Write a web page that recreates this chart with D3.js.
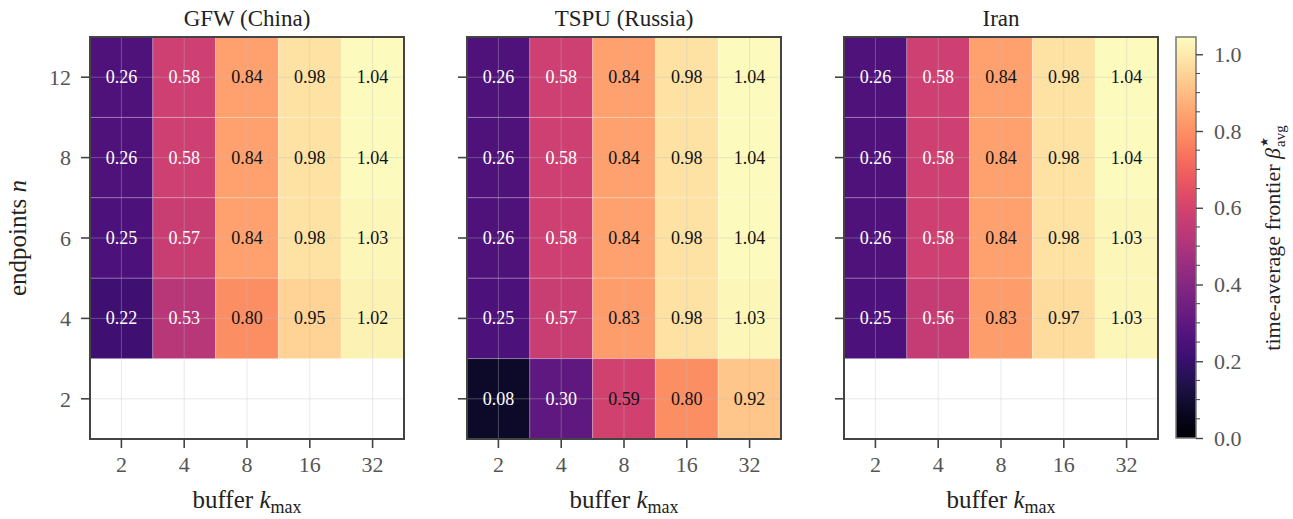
<!DOCTYPE html>
<html>
<head>
<meta charset="utf-8">
<script src="https://cdn.jsdelivr.net/npm/d3@7"></script>
<style>
  body { margin: 0; background: #fff; }
  svg text { font-family: "Liberation Serif", "DejaVu Serif", serif; }
</style>
</head>
<body>
<div id="chart"></div>
<script>
// data
const panels = ["GFW (China)", "TSPU (Russia)", "Iran"];
const buffers = ["2", "4", "8", "16", "32"];
const endpoints = ["12", "8", "6", "4", "2"];

const gfw = [
    [0.26, 0.58, 0.84, 0.98, 1.04],
    [0.26, 0.58, 0.84, 0.98, 1.04],
    [0.25, 0.57, 0.84, 0.98, 1.03],
    [0.22, 0.53, 0.80, 0.95, 1.02],
    null,
];
const tspu = [
    [0.26, 0.58, 0.84, 0.98, 1.04],
    [0.26, 0.58, 0.84, 0.98, 1.04],
    [0.26, 0.58, 0.84, 0.98, 1.04],
    [0.25, 0.57, 0.83, 0.98, 1.03],
    [0.08, 0.30, 0.59, 0.80, 0.92],
];
const iran = [
    [0.26, 0.58, 0.84, 0.98, 1.04],
    [0.26, 0.58, 0.84, 0.98, 1.04],
    [0.26, 0.58, 0.84, 0.98, 1.03],
    [0.25, 0.56, 0.83, 0.97, 1.03],
    null,
];
const panelData = [gfw, tspu, iran];
const cbTicks = [0.0, 0.2, 0.4, 0.6, 0.8, 1.0];
const vmax = 1.045;

const width = 1293, height = 519;
const plotTop = 37, plotBottom = 439;
const panelW = 314;
const panelX = [90, 467, 844];

const svg = d3.select("#chart").append("svg")
    .attr("width", width)
    .attr("height", height);

const color = d3.scaleSequential(d3.interpolateMagma).domain([0, vmax]);

const x = d3.scaleBand().domain(buffers).range([0, panelW]);
const y = d3.scaleBand().domain(endpoints).range([plotTop, plotBottom]);

panelData.forEach((rows, p) => {
    const g = svg.append("g")
        .attr("transform", `translate(${panelX[p]}, 0)`);

    const cells = [];
    rows.forEach((row, i) => {
        if (!row) return;
        row.forEach((v, j) => cells.push({ n: endpoints[i], k: buffers[j], v: v }));
    });

    g.selectAll("rect.cell")
        .data(cells)
        .join("rect")
        .attr("class", "cell")
        .attr("x", (d) => x(d.k))
        .attr("y", (d) => y(d.n))
        .attr("width", x.bandwidth())
        .attr("height", y.bandwidth())
        .attr("fill", (d) => color(d.v))
        .attr("stroke", "rgba(255,255,255,0.22)")
        .attr("stroke-width", 1);

    // grid
    g.selectAll("line.gx")
        .data(buffers)
        .join("line")
        .attr("class", "gx")
        .attr("x1", (d) => x(d) + x.bandwidth() / 2)
        .attr("x2", (d) => x(d) + x.bandwidth() / 2)
        .attr("y1", plotTop)
        .attr("y2", plotBottom)
        .attr("stroke", "rgba(190,190,190,0.35)")
        .attr("stroke-width", 1);
    g.selectAll("line.gy")
        .data(endpoints)
        .join("line")
        .attr("class", "gy")
        .attr("y1", (d) => y(d) + y.bandwidth() / 2)
        .attr("y2", (d) => y(d) + y.bandwidth() / 2)
        .attr("x1", 0)
        .attr("x2", panelW)
        .attr("stroke", "rgba(190,190,190,0.35)")
        .attr("stroke-width", 1);

    g.selectAll("text.val")
        .data(cells)
        .join("text")
        .attr("class", "val")
        .attr("x", (d) => x(d.k) + x.bandwidth() / 2)
        .attr("y", (d) => y(d.n) + y.bandwidth() / 2)
        .attr("dy", "0.33em")
        .attr("text-anchor", "middle")
        .attr("font-size", 18)
        .attr("fill", (d) => d.v < 0.585 ? "#fff" : "#111")
        .text((d) => d.v.toFixed(2));

    // frame
    g.append("rect")
        .attr("x", 0)
        .attr("y", plotTop)
        .attr("width", panelW)
        .attr("height", plotBottom - plotTop)
        .attr("fill", "none")
        .attr("stroke", "#444")
        .attr("stroke-width", 2);

    const xAxis = g.append("g")
        .attr("transform", `translate(0, ${plotBottom + 1})`)
        .call(d3.axisBottom(x).tickSize(8).tickPadding(8));
    xAxis.select(".domain").remove();
    xAxis.selectAll("line").attr("stroke", "#444").attr("stroke-width", 1.6);
    xAxis.selectAll("text").attr("font-size", 22).attr("fill", "#555")
        .attr("font-family", "Liberation Serif");

    const yAxis = g.append("g")
        .attr("transform", "translate(-1, 0)")
        .call(d3.axisLeft(y).tickSize(8).tickPadding(10));
    yAxis.select(".domain").remove();
    yAxis.selectAll("line").attr("stroke", "#444").attr("stroke-width", 1.6);
    yAxis.selectAll("text").attr("font-size", 22).attr("fill", "#555")
        .attr("font-family", "Liberation Serif")
        .attr("dy", "0.35em");
    if (p > 0) yAxis.selectAll("text").remove();

    g.append("text")
        .attr("x", panelW / 2)
        .attr("y", 26)
        .attr("text-anchor", "middle")
        .attr("font-size", 23)
        .attr("fill", "#222")
        .text(panels[p]);

    const xl = g.append("text")
        .attr("x", panelW / 2)
        .attr("y", 508)
        .attr("text-anchor", "middle")
        .attr("font-size", 25)
        .attr("fill", "#222");
    xl.append("tspan").text("buffer ");
    xl.append("tspan").attr("font-style", "italic").text("k");
    xl.append("tspan").attr("font-size", 18).attr("dy", 5).text("max");
});

// y label
const yl = svg.append("text")
    .attr("transform", "translate(26, 238) rotate(-90)")
    .attr("text-anchor", "middle")
    .attr("font-size", 25)
    .attr("fill", "#222");
yl.append("tspan").text("endpoints ");
yl.append("tspan").attr("font-style", "italic").text("n");

// colorbar
const cbX = 1176, cbW = 20;
const cbScale = d3.scaleLinear().domain([0, vmax]).range([438, 37]);
const defs = svg.append("defs");
const grad = defs.append("linearGradient")
    .attr("id", "cbgrad")
    .attr("x1", 0).attr("y1", 1).attr("x2", 0).attr("y2", 0);
d3.range(0, 1.0001, 0.05).forEach((t) => {
    grad.append("stop")
        .attr("offset", t)
        .attr("stop-color", d3.interpolateMagma(t));
});
svg.append("rect")
    .attr("x", cbX)
    .attr("y", cbScale(vmax))
    .attr("width", cbW)
    .attr("height", cbScale(0) - cbScale(vmax))
    .attr("fill", "url(#cbgrad)")
    .attr("stroke", "#777")
    .attr("stroke-width", 1.5);

const cbAxis = svg.append("g")
    .attr("transform", `translate(${cbX + cbW}, 0)`)
    .call(d3.axisRight(cbScale).tickValues(cbTicks).tickFormat(d3.format(".1f")).tickSize(7).tickPadding(11));
cbAxis.select(".domain").remove();
cbAxis.selectAll("line").attr("stroke", "#444").attr("stroke-width", 1.4);
cbAxis.selectAll("text").attr("font-size", 22).attr("fill", "#555")
    .attr("font-family", "Liberation Serif");

const minor = d3.range(0.05, vmax, 0.05).filter((t) => Math.abs(t * 5 - Math.round(t * 5)) > 0.01);
svg.append("g")
    .selectAll("line")
    .data(minor)
    .join("line")
    .attr("x1", cbX + cbW)
    .attr("x2", cbX + cbW + 4)
    .attr("y1", (d) => cbScale(d))
    .attr("y2", (d) => cbScale(d))
    .attr("stroke", "#444")
    .attr("stroke-width", 1);

const cl = svg.append("text")
    .attr("transform", "translate(1280, 238) rotate(-90)")
    .attr("text-anchor", "middle")
    .attr("font-size", 22)
    .attr("fill", "#222");
cl.append("tspan").text("time-average frontier ");
cl.append("tspan").attr("font-style", "italic").text("β");
cl.append("tspan").attr("font-size", 11).attr("dy", -12).attr("dx", 1).text("★");
cl.append("tspan").attr("font-size", 15).attr("dy", 17).attr("dx", -10).text("avg");
</script>
</body>
</html>
